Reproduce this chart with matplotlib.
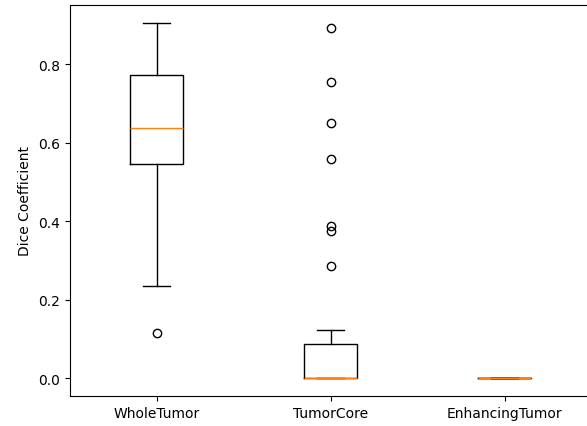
import matplotlib
matplotlib.use('Agg')
import matplotlib.pyplot as plt

labels = ['WholeTumor', 'TumorCore', 'EnhancingTumor']
medians = [0.637, 0.0, 0.0]
q1s = [0.546, 0.0, 0.0]
q3s = [0.772, 0.086, 0.0]
whislo = [0.234, 0.0, 0.0]
whishi = [0.906, 0.124, 0.0]
fliers = [
    [0.115],
    [0.892, 0.755, 0.650, 0.558, 0.389, 0.375, 0.287],
    [],
]

stats = []
for i in range(len(labels)):
    stats.append({
        'label': labels[i],
        'med': medians[i],
        'q1': q1s[i],
        'q3': q3s[i],
        'whislo': whislo[i],
        'whishi': whishi[i],
        'fliers': fliers[i],
    })

fig = plt.figure(figsize=(5.87, 4.27), dpi=100)
ax = fig.add_axes([0.1184, 0.0703, 0.8893, 0.9157])
ax.bxp(stats, widths=0.3)
ax.set_ylabel('Dice Coefficient')
ax.set_xlim(0.5, 3.5)
ax.set_ylim(-0.0453, 0.9513)
fig.savefig('out.png', dpi=100)
